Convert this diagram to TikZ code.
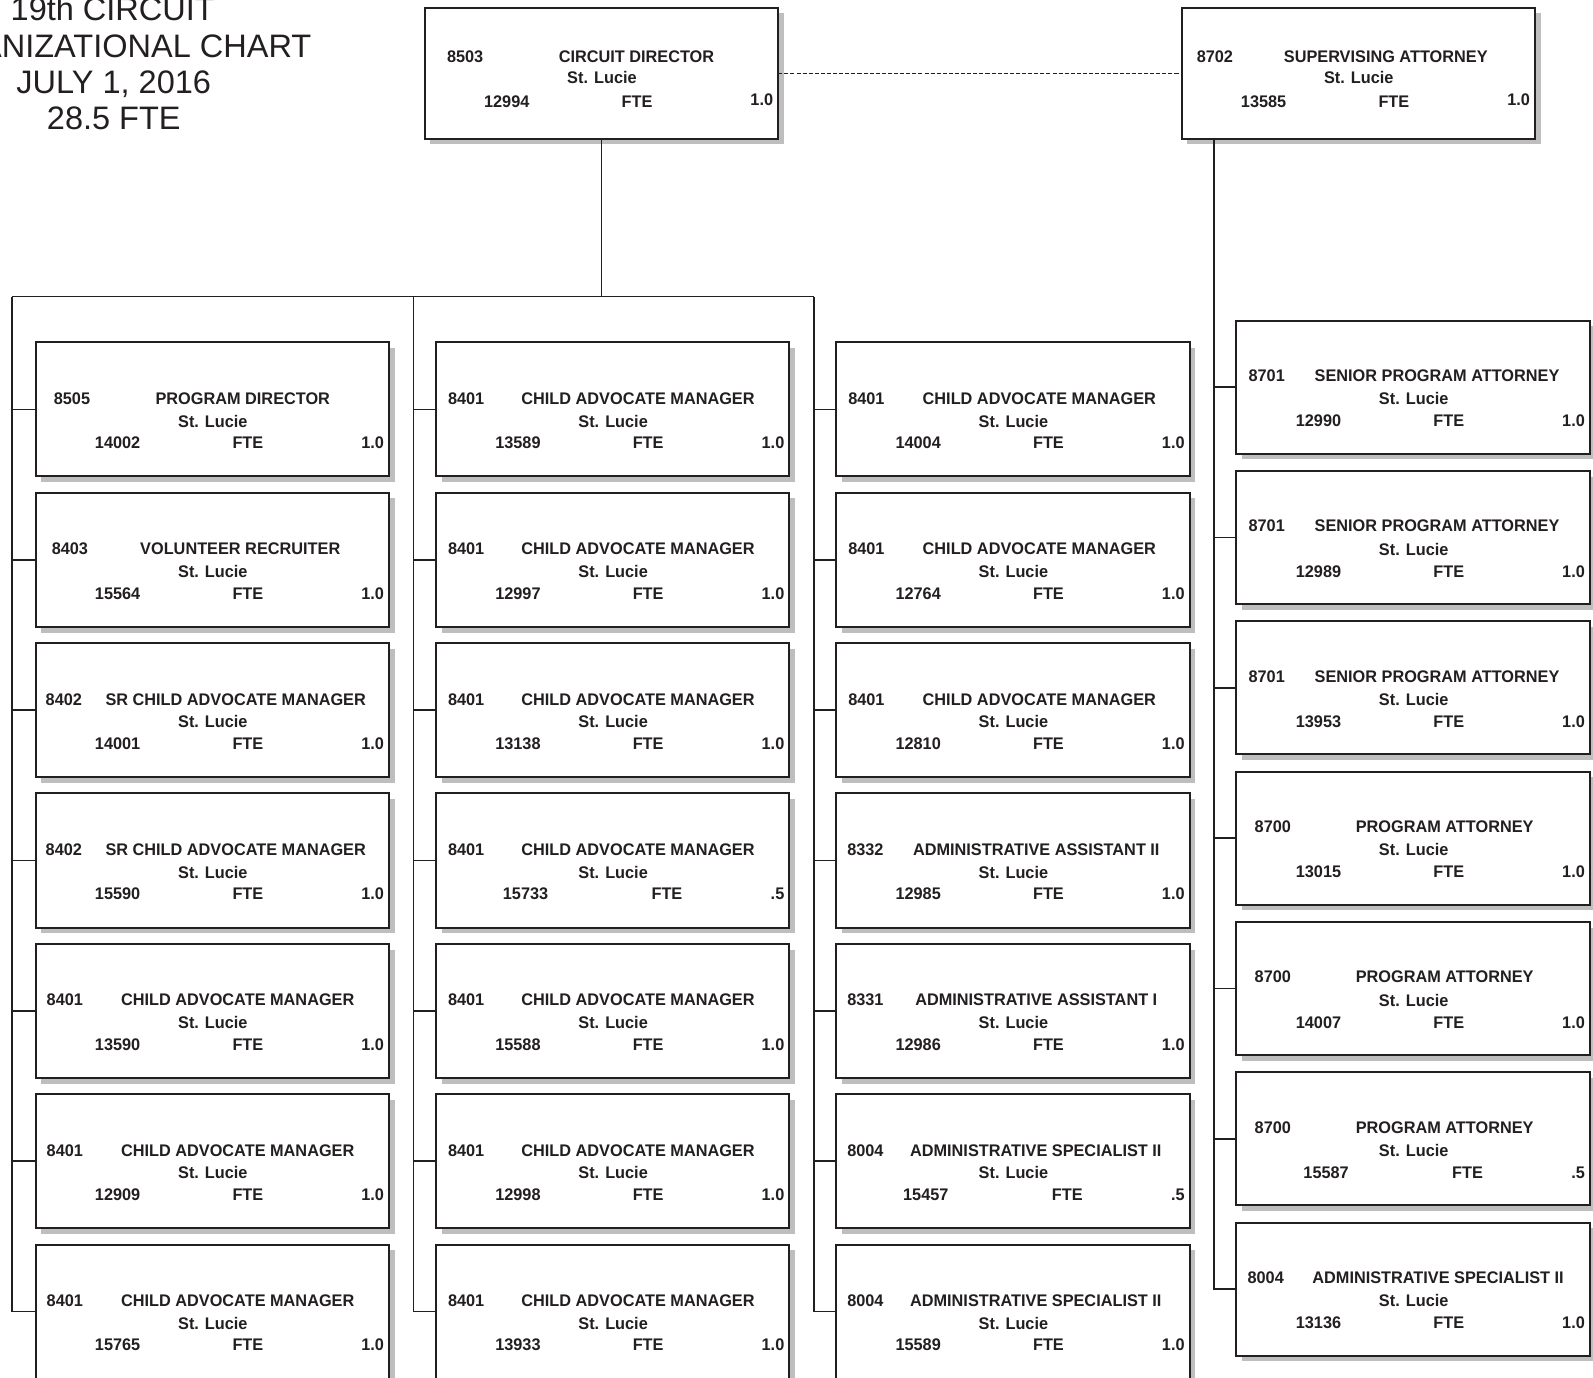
\documentclass[tikz,border=0pt]{standalone}
\usepackage{fontspec}
\setmainfont{Liberation Sans}
\newfontfamily\boxfont{Liberation Sans}[FakeStretch=0.97]
\usetikzlibrary{shadows}
\definecolor{ink}{HTML}{231F20}
\definecolor{shade}{RGB}{190,190,190}

% vertical text offsets inside a position box (from its top edge)
\def\ya{61}\def\yb{83.4}\def\yc{104.6}\def\yd{104.6}
\def\bh{132}
\def\halffte{.5}

% #1 name, #2 left, #3 top, #4 class code, #5 code x, #6 title, #7 title x,
% #8 position number, #9 FTE value
\newcommand\orgbox[9]{%
  \def\fteval{#9}%
  \ifx\fteval\halffte\def\idx{66}\def\ftex{227.5}\else\def\idx{58.5}\def\ftex{209}\fi
  \node[orgbox, minimum height={\bh*0.75pt}] (#1) at (#2,#3) {};
  \node[boxtext, anchor=base west] (#1-code) at ([shift={(#5,\ya)}]#1.north west) {#4};
  \node[boxtext, anchor=base] (#1-title) at ([shift={(#7,\ya)}]#1.north west) {#6};
  \node[boxtext, anchor=base] (#1-site) at ([shift={(174.5,\yb)}]#1.north west) {St. Lucie};
  \node[boxtext, anchor=base west] (#1-id) at ([shift={(\idx,\yc)}]#1.north west) {#8};
  \node[boxtext, anchor=base] (#1-fte) at ([shift={(\ftex,\yc)}]#1.north west) {FTE};
  \node[boxtext, anchor=base east] (#1-val) at ([shift={(343,\yd)}]#1.north west) {#9};
}

\begin{document}
\begin{tikzpicture}[x=0.75pt, y=-0.75pt,
  orgbox/.style={rectangle, draw=ink, line width=1.5pt, fill=white,
    inner sep=0pt, outer sep=0pt, minimum width=261pt, anchor=north west,
    general shadow={fill=shade, shadow xshift=4.2pt, shadow yshift=-4.2pt}},
  boxtext/.style={inner sep=0pt, outer sep=0pt, text=ink,
    font=\boxfont\bfseries\fontsize{12.4}{14}\selectfont},
  titletext/.style={inner sep=0pt, anchor=base, text=ink,
    font=\fontsize{24}{28}\selectfont},
  conn/.style={draw=ink, line width=1.2pt},
  dashconn/.style={draw=ink, line width=0.8pt, dash pattern=on 3pt off 1.5pt}]

\useasboundingbox (0,0) rectangle (1568,1356);
\clip (0,0) rectangle (1568,1356);

% heading (runs off the upper left edge of the sheet)
\node[titletext] (head1) at (111,20.4) {19th CIRCUIT};
\node[titletext] (head2) at (107,56.4) {ORGANIZATIONAL CHART};
\node[titletext] (head3) at (112,91.8) {JULY 1, 2016};
\node[titletext] (head4) at (112,127.3) {28.5 FTE};

% top level
\begingroup
\def\ya{54.2}\def\yb{74.8}\def\yc{98.4}\def\yd{96.5}\def\bh{129}
\orgbox{cd}{418}{7.5}{8503}{22}{CIRCUIT DIRECTOR}{208.5}{12994}{1.0}
\orgbox{sa}{1163}{7.5}{8702}{15}{SUPERVISING ATTORNEY}{201}{13585}{1.0}
\endgroup

% first column
\orgbox{a1}{35}{337}{8505}{18}{PROGRAM DIRECTOR}{204}{14002}{1.0}
\orgbox{a2}{35}{485}{8403}{16}{VOLUNTEER RECRUITER}{201.5}{15564}{1.0}
\orgbox{a3}{35}{633}{8402}{10}{SR CHILD ADVOCATE MANAGER}{197}{14001}{1.0}
\orgbox{a4}{35}{781}{8402}{10}{SR CHILD ADVOCATE MANAGER}{197}{15590}{1.0}
\orgbox{a5}{35}{929}{8401}{11}{CHILD ADVOCATE MANAGER}{199}{13590}{1.0}
\orgbox{a6}{35}{1077}{8401}{11}{CHILD ADVOCATE MANAGER}{199}{12909}{1.0}
\orgbox{a7}{35}{1225}{8401}{11}{CHILD ADVOCATE MANAGER}{199}{15765}{1.0}

% second column
\orgbox{b1}{429}{337}{8401}{12}{CHILD ADVOCATE MANAGER}{199}{13589}{1.0}
\orgbox{b2}{429}{485}{8401}{12}{CHILD ADVOCATE MANAGER}{199}{12997}{1.0}
\orgbox{b3}{429}{633}{8401}{12}{CHILD ADVOCATE MANAGER}{199}{13138}{1.0}
\orgbox{b4}{429}{781}{8401}{12}{CHILD ADVOCATE MANAGER}{199}{15733}{.5}
\orgbox{b5}{429}{929}{8401}{12}{CHILD ADVOCATE MANAGER}{199}{15588}{1.0}
\orgbox{b6}{429}{1077}{8401}{12}{CHILD ADVOCATE MANAGER}{199}{12998}{1.0}
\orgbox{b7}{429}{1225}{8401}{12}{CHILD ADVOCATE MANAGER}{199}{13933}{1.0}

% third column
\orgbox{c1}{823}{337}{8401}{12}{CHILD ADVOCATE MANAGER}{200}{14004}{1.0}
\orgbox{c2}{823}{485}{8401}{12}{CHILD ADVOCATE MANAGER}{200}{12764}{1.0}
\orgbox{c3}{823}{633}{8401}{12}{CHILD ADVOCATE MANAGER}{200}{12810}{1.0}
\orgbox{c4}{823}{781}{8332}{11}{ADMINISTRATIVE ASSISTANT II}{197}{12985}{1.0}
\orgbox{c5}{823}{929}{8331}{11}{ADMINISTRATIVE ASSISTANT I}{197}{12986}{1.0}
\orgbox{c6}{823}{1077}{8004}{11}{ADMINISTRATIVE SPECIALIST II}{196.5}{15457}{.5}
\orgbox{c7}{823}{1225}{8004}{11}{ADMINISTRATIVE SPECIALIST II}{196.5}{15589}{1.0}

% attorney column
\begingroup
\def\bh{131}\def\ya{60}\def\yb{82.8}\def\yc{104.5}\def\yd{104.5}
\orgbox{d1}{1217}{315.5}{8701}{12}{SENIOR PROGRAM ATTORNEY}{197.5}{12990}{1.0}
\orgbox{d2}{1217}{463.5}{8701}{12}{SENIOR PROGRAM ATTORNEY}{197.5}{12989}{1.0}
\orgbox{d3}{1217}{611.5}{8701}{12}{SENIOR PROGRAM ATTORNEY}{197.5}{13953}{1.0}
\orgbox{d4}{1217}{759.5}{8700}{18}{PROGRAM ATTORNEY}{205}{13015}{1.0}
\orgbox{d5}{1217}{907.5}{8700}{18}{PROGRAM ATTORNEY}{205}{14007}{1.0}
\orgbox{d6}{1217}{1055.5}{8700}{18}{PROGRAM ATTORNEY}{205}{15587}{.5}
\orgbox{d7}{1217}{1203.5}{8004}{11}{ADMINISTRATIVE SPECIALIST II}{198.5}{13136}{1.0}
\endgroup

% reporting lines
\coordinate (busA) at (12,292);
\coordinate (busB) at (407,292);
\coordinate (busC) at (801,292);
\coordinate (saDrop) at ([xshift=24pt]sa.south west);

\draw[dashconn] (cd.east) -- (sa.west);
\draw[conn] (cd.south) -- (cd.south |- busA);
\draw[conn] (busA) -- (busC);
\draw[conn] (busA) |- (a7.west);
\draw[conn] (busB) |- (b7.west);
\draw[conn] (busC) |- (c7.west);
\draw[conn] (saDrop) |- (d7.west);
\foreach \r in {1,...,6}{
  \draw[conn] (a\r.west) -- (a\r.west -| busA);
  \draw[conn] (b\r.west) -- (b\r.west -| busB);
  \draw[conn] (c\r.west) -- (c\r.west -| busC);
  \draw[conn] (d\r.west) -- (d\r.west -| saDrop);
}
\end{tikzpicture}
\end{document}
